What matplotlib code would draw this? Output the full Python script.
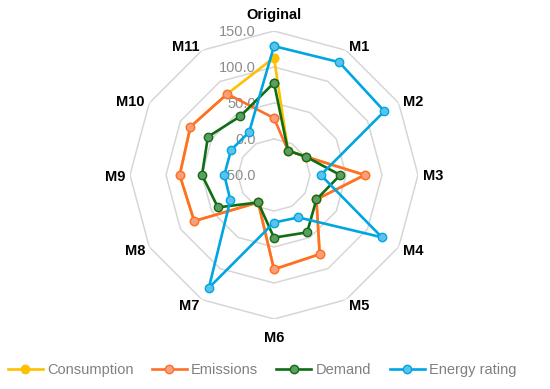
import numpy as np
import matplotlib
matplotlib.use("Agg")
import matplotlib.pyplot as plt

plt.rcParams['font.family'] = ['Liberation Sans', 'DejaVu Sans']

categories = ["Original", "M1", "M2", "M3", "M4", "M5", "M6", "M7", "M8", "M9", "M10", "M11"]
consumption = [113, -11, 1, 76, 18, 77, 81, -6, 78, 81, 84, 80]
emissions = [29, -11, 1, 76, 18, 77, 81, -6, 78, 81, 84, 80]
demand = [78, -11, 1, 42, 18, 42, 37, -6, 40, 50, 56, 44]
energy_rating = [129, 131, 127, 15, 123, 18, 16, 131, 20, 19, 19, 19]
ring_values = [0, 50, 100, 150]
tick_values = [150, 100, 50, 0, -50]

series = [
    ("Consumption", consumption, "#FFC000", "#FFC000"),
    ("Emissions", emissions, "#FF6F2C", "#FA9F7C"),
    ("Demand", demand, "#0F6E14", "#5E9C64"),
    ("Energy rating", energy_rating, "#00A6E0", "#5CC2EC"),
]

n = len(categories)
theta = np.linspace(0, 2 * np.pi, n, endpoint=False)
theta_c = np.append(theta, theta[0])

fig = plt.figure(figsize=(5.5, 3.89), dpi=100)
ax = fig.add_axes([130 / 550, (389 - 319) / 389, 288 / 550, 288 / 389], projection="polar")
ax.set_theta_zero_location("N")
ax.set_theta_direction(-1)
ax.set_ylim(-50, 150)
ax.grid(False)
ax.spines["polar"].set_visible(False)
ax.set_xticks([])
ax.set_yticks([])
ax.patch.set_alpha(0)

# polygon grid rings
for v in ring_values:
    ax.plot(theta_c, [v] * (n + 1), color="#D6D6D6", lw=1.1, zorder=1)

for name, vals, col, face in series:
    ax.plot(theta_c, vals + vals[:1], color=col, lw=1.9, marker="o", ms=6,
            mfc=face, mec=col, mew=1.0, label=name, zorder=3, clip_on=False)

# category labels, anchored at the outer ring vertex
for t, lab in zip(theta, categories):
    s, c = np.sin(t), np.cos(t)
    if abs(s) < 0.1:
        d, ha = 17, "center"
    else:
        d, ha = 5, ("left" if s > 0 else "right")
    ax.annotate(lab, xy=(t, 150), xytext=(d * s, d * c), textcoords="offset pixels",
                ha=ha, va="center_baseline", fontsize=10.5, fontweight="bold",
                color="black", annotation_clip=False)

for v in tick_values:
    ax.annotate(f"{v:.1f}", xy=(0, v), xytext=(-13, 0), textcoords="offset points",
                ha="right", va="center_baseline", fontsize=10.5, color="#8C8C8C",
                zorder=2, annotation_clip=False)

fig.legend(loc="center", bbox_to_anchor=(262 / 550, 1 - 370 / 389), ncol=4,
           frameon=False, fontsize=10.5, handlelength=2.4, handletextpad=0.3,
           columnspacing=1.25, labelcolor="#808080")

fig.savefig("out.png", dpi=100)
